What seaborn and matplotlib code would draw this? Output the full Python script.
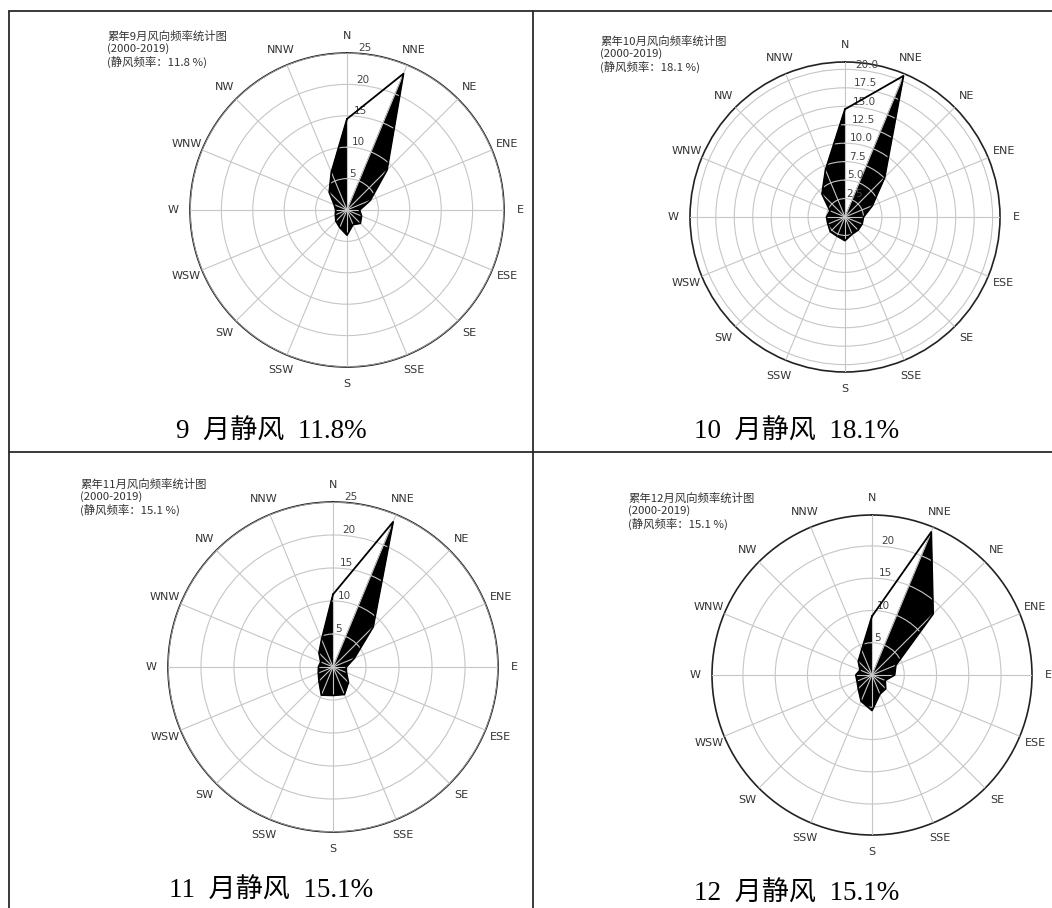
import numpy as np
import matplotlib
matplotlib.use("Agg")
import matplotlib.pyplot as plt
import seaborn as sns
from matplotlib.lines import Line2D

# 16-point wind rose, frequency in %
directions = ["N", "NNE", "NE", "ENE", "E", "ESE", "SE", "SSE",
              "S", "SSW", "SW", "WSW", "W", "WNW", "NW", "NNW"]
months = [9, 10, 11, 12]
calm = [11.8, 18.1, 15.1, 15.1]

freq_sep = [14.5, 23.5, 9.0, 4.0, 2.0, 2.5, 3.0, 2.5, 4.0, 3.0, 2.5, 2.0, 1.8, 2.2, 4.0, 6.5]
freq_oct = [14.6, 20.7, 7.6, 4.0, 2.5, 2.5, 2.5, 2.5, 3.2, 2.8, 2.8, 2.5, 2.5, 2.2, 4.4, 6.9]
freq_nov = [11.0, 23.8, 8.6, 3.5, 2.0, 2.2, 3.3, 4.5, 4.3, 4.6, 3.0, 2.4, 2.2, 2.0, 3.0, 4.5]
freq_dec = [9.1, 24.0, 13.4, 4.0, 3.5, 2.2, 3.0, 3.2, 5.5, 4.4, 3.0, 2.5, 2.5, 2.0, 3.0, 4.2]

rticks_5 = [5, 10, 15, 20, 25]
rticks_oct = [2.5, 5.0, 7.5, 10.0, 12.5, 15.0, 17.5, 20.0]

W, H = 1052, 908

sns.set_style("white")
plt.rcParams["font.family"] = ["DejaVu Sans", "Noto Sans CJK SC"]
plt.rcParams["axes.unicode_minus"] = False

fig = plt.figure(figsize=(W / 100, H / 100), dpi=100)
fig.patch.set_facecolor("white")


def fx(x):
    return x / W


def fy(y):
    return 1 - y / H


def draw_rose(cx, cy, R, freq, rmax, rticks, fmt):
    ax = fig.add_axes([fx(cx - R), fy(cy + R), 2 * R / W, 2 * R / H], projection="polar")
    theta = np.deg2rad(np.arange(len(directions)) * 22.5)
    r = np.array(freq)
    ax.set_theta_zero_location("N")
    ax.set_theta_direction(-1)

    # black petals: from the centre, NNE clockwise round to N, then back to centre
    ft = np.concatenate([[0], theta[1:], [theta[0]]])
    fr = np.concatenate([[0], r[1:], [r[0]]])
    ax.fill(ft, fr, color="black", lw=0.5, zorder=1)

    # closed outline
    sns.lineplot(x=np.append(theta, theta[0]), y=np.append(r, r[0]), sort=False,
                 estimator=None, color="black", lw=1.3, ax=ax, zorder=3)
    ax.set_xlabel("")
    ax.set_ylabel("")

    ax.set_ylim(0, rmax)
    ax.set_xticks(theta)
    ax.set_xticklabels(directions)
    ax.set_yticks(rticks)
    ax.set_yticklabels([fmt % t for t in rticks])
    ax.set_rlabel_position(4)
    ax.tick_params(axis="x", pad=1.5, labelsize=8, colors="#333333")
    ax.tick_params(axis="y", labelsize=7.5, colors="#444444")
    ax.grid(True, color="#c6c6c6", lw=0.8)
    ax.set_axisbelow(False)
    ax.spines["polar"].set_color("#222222")
    ax.spines["polar"].set_linewidth(1.2)
    return ax


draw_rose(347, 210, 157, freq_sep, 25, rticks_5, "%g")
draw_rose(845, 217, 155, freq_oct, 21, rticks_oct, "%.1f")
draw_rose(333, 667, 165, freq_nov, 25, rticks_5, "%g")
draw_rose(872, 675, 160, freq_dec, 24.8, rticks_5[:4], "%g")

# small headings in each rose
heads = [(107, 31), (600, 36), (80, 479), (628, 493)]
for (hx, hy), m, c in zip(heads, months, calm):
    fig.text(fx(hx), fy(hy), "累年%d月风向频率统计图\n(2000-2019)\n(静风频率：%.1f %%)" % (m, c),
             ha="left", va="top", fontsize=8.2, linespacing=1.15, color="#333333",
             family=["Noto Sans CJK SC", "DejaVu Sans"])

# captions under each rose
caps = [(271, 432), (797, 432), (271, 891), (797, 894)]
for (tx, ty), m, c in zip(caps, months, calm):
    fig.text(fx(tx), fy(ty), "%d  月静风  %.1f%%" % (m, c), ha="center", va="center",
             fontsize=19.5, color="black", family=["Liberation Serif", "Noto Sans CJK SC"])

# table frame
frame = [((9, 9), (11, 908)), ((9, 1052), (11, 11)),
         ((533, 533), (11, 908)), ((9, 1052), (452, 452))]
for xs, ys in frame:
    fig.add_artist(Line2D([fx(x) for x in xs], [fy(y) for y in ys],
                          transform=fig.transFigure, color="#2a2a2a", lw=1.3))

fig.savefig("out.png", dpi=100, facecolor="white")
